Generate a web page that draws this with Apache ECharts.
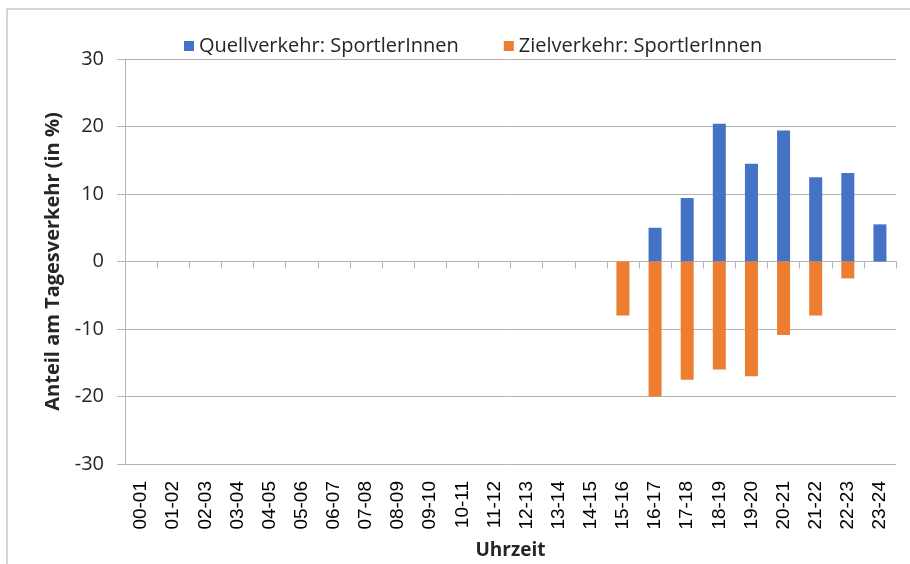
<!DOCTYPE html>
<html>
<head>
<meta charset="utf-8">
<script src="https://cdn.jsdelivr.net/npm/echarts@6/dist/echarts.min.js"></script>
<style>
  html, body { margin: 0; padding: 0; background: #fff; }
  #chart { width: 910px; height: 564px; }
</style>
</head>
<body>
<div id="chart"></div>
<script>
// Hourly share of daily traffic (in %) for athletes: departures vs. arrivals
const hours = ['00-01','01-02','02-03','03-04','04-05','05-06','06-07','07-08','08-09','09-10','10-11','11-12',
               '12-13','13-14','14-15','15-16','16-17','17-18','18-19','19-20','20-21','21-22','22-23','23-24'];
const quellverkehr = [0,0,0,0,0,0,0,0,0,0,0,0,0,0,0,0,5.0,9.4,20.4,14.5,19.4,12.5,13.1,5.5];
const zielverkehr  = [0,0,0,0,0,0,0,0,0,0,0,0,0,0,0,-8.0,-20.0,-17.5,-16.0,-17.0,-10.9,-8.0,-2.5,0];
const seriesNames = ['Quellverkehr: SportlerInnen', 'Zielverkehr: SportlerInnen'];
const yTicks = { min: -30, max: 30, step: 10 };

const gridColor = '#b4b4b4';
const textColor = '#262626';
const uiFont = '"Open Sans", "Noto Sans", sans-serif';

const chart = echarts.init(document.getElementById('chart'), null, { renderer: 'canvas' });
chart.setOption({
  animation: false,
  backgroundColor: '#ffffff',
  graphic: [{
    type: 'rect',
    shape: { x: 7, y: 9, width: 920, height: 600 },
    style: { fill: 'none', stroke: '#a9a9a9', lineWidth: 1 },
    silent: true
  }],
  legend: {
    top: 31,
    left: 179,
    itemWidth: 10,
    itemHeight: 10,
    itemGap: 45,
    icon: 'rect',
    textStyle: { fontFamily: uiFont, fontSize: 20, color: textColor, padding: [0, 0, 0, 0] },
    data: seriesNames
  },
  grid: { left: 125, right: 14, top: 59, bottom: 100, containLabel: false, outerBoundsMode: 'none' },
  xAxis: [{
    type: 'category',
    data: hours,
    boundaryGap: true,
    axisLine: { onZero: true, lineStyle: { color: gridColor, width: 1 } },
    axisTick: { show: true, interval: 0, length: 7, lineStyle: { color: gridColor } },
    axisLabel: { show: false },
    splitLine: { show: false }
  }, {
    type: 'category',
    data: hours,
    position: 'bottom',
    boundaryGap: true,
    axisLine: { show: false, onZero: false },
    axisTick: { show: false },
    axisLabel: {
      interval: 0,
      rotate: 90,
      margin: 17,
      fontFamily: '"Liberation Sans", Arial, sans-serif',
      fontSize: 19,
      color: '#000'
    },
    name: 'Uhrzeit',
    nameLocation: 'middle',
    nameGap: 77,
    nameTextStyle: { fontFamily: uiFont, fontWeight: 'bold', fontSize: 19, color: textColor }
  }],
  yAxis: {
    type: 'value',
    min: yTicks.min,
    max: yTicks.max,
    interval: yTicks.step,
    axisLine: { show: true, onZero: false, lineStyle: { color: gridColor } },
    axisTick: { show: true, length: 8, lineStyle: { color: gridColor } },
    splitLine: { show: true, lineStyle: { color: gridColor, width: 1 } },
    axisLabel: {
      margin: 21,
      fontFamily: uiFont,
      fontSize: 20,
      color: textColor
    },
    name: 'Anteil am Tagesverkehr (in %)',
    nameLocation: 'middle',
    nameGap: 55,
    nameTextStyle: { fontFamily: uiFont, fontWeight: 'bold', fontSize: 20, color: textColor }
  },
  series: [{
    name: seriesNames[0],
    type: 'bar',
    data: quellverkehr,
    barWidth: 13,
    barGap: '-100%',
    itemStyle: { color: '#4472C4' }
  }, {
    name: seriesNames[1],
    type: 'bar',
    data: zielverkehr,
    barWidth: 13,
    barGap: '-100%',
    itemStyle: { color: '#ED7D31' }
  }]
});
</script>
</body>
</html>
